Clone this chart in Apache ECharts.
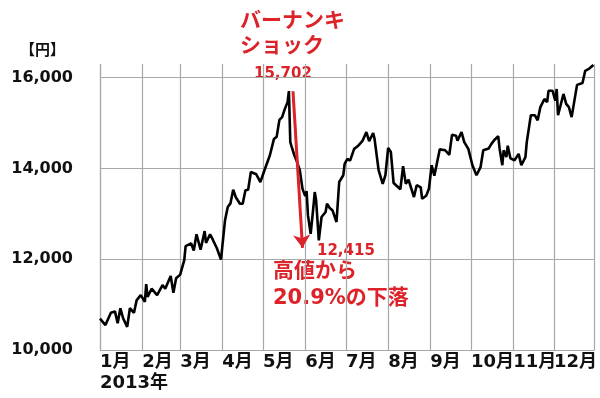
<!DOCTYPE html>
<html>
<head>
<meta charset="utf-8">
<script src="https://cdn.jsdelivr.net/npm/echarts@6/dist/echarts.min.js"></script>
<style>
html,body{margin:0;padding:0;background:#fff;}
#chart{width:600px;height:398px;}
</style>
</head>
<body>
<div id="chart"></div>
<script>
// Nikkei average, 2013
const dates = [
'2013-01-01','2013-01-05','2013-01-09','2013-01-12','2013-01-14','2013-01-16','2013-01-18','2013-01-21','2013-01-23','2013-01-26','2013-01-28','2013-01-31',
'2013-02-01','2013-02-03','2013-02-04','2013-02-05','2013-02-08','2013-02-12','2013-02-16','2013-02-18','2013-02-22','2013-02-24','2013-02-26',
'2013-03-01','2013-03-04','2013-03-05','2013-03-09','2013-03-11','2013-03-13','2013-03-16','2013-03-19','2013-03-20','2013-03-23','2013-03-25','2013-03-28','2013-03-31',
'2013-04-03','2013-04-05','2013-04-07','2013-04-09','2013-04-11','2013-04-14','2013-04-16','2013-04-18','2013-04-20','2013-04-22','2013-04-26','2013-04-29',
'2013-05-02','2013-05-06','2013-05-09','2013-05-11','2013-05-13','2013-05-15','2013-05-17','2013-05-19','2013-05-20','2013-05-21','2013-05-22','2013-05-24','2013-05-26','2013-05-28','2013-05-30',
'2013-06-01','2013-06-02','2013-06-03','2013-06-05','2013-06-07','2013-06-08','2013-06-09','2013-06-11','2013-06-13','2013-06-16','2013-06-17','2013-06-19','2013-06-21','2013-06-24','2013-06-26','2013-06-29','2013-06-30',
'2013-07-02','2013-07-04','2013-07-07','2013-07-10','2013-07-13','2013-07-16','2013-07-18','2013-07-21','2013-07-22','2013-07-25','2013-07-28','2013-07-30',
'2013-08-01','2013-08-03','2013-08-05','2013-08-10','2013-08-12','2013-08-14','2013-08-16','2013-08-20','2013-08-22','2013-08-25','2013-08-26','2013-08-29','2013-08-31',
'2013-09-02','2013-09-04','2013-09-08','2013-09-12','2013-09-15','2013-09-17','2013-09-20','2013-09-21','2013-09-24','2013-09-26','2013-09-29',
'2013-10-02','2013-10-05','2013-10-08','2013-10-10','2013-10-14','2013-10-16','2013-10-18','2013-10-21','2013-10-22','2013-10-24','2013-10-25','2013-10-27','2013-10-28','2013-10-30',
'2013-11-02','2013-11-05','2013-11-07','2013-11-10','2013-11-11','2013-11-14','2013-11-17','2013-11-19','2013-11-21','2013-11-24','2013-11-26','2013-11-27','2013-11-30',
'2013-12-02','2013-12-03','2013-12-04','2013-12-08','2013-12-10','2013-12-12','2013-12-14','2013-12-18','2013-12-22','2013-12-24','2013-12-27','2013-12-30'
];
const closes = [
10690,10550,10820,10850,10590,10920,10700,10510,10920,10820,11100,11210,
11250,11060,11450,11170,11350,11210,11430,11350,11630,11260,11580,
11660,11980,12290,12350,12190,12550,12210,12620,12360,12550,12430,12240,11990,
12860,13150,13230,13530,13360,13220,13220,13520,13530,13920,13870,13700,
13960,14290,14650,14700,15070,15130,15310,15460,15702,14580,14480,14290,14140,13960,13550,
13390,13500,12970,12560,13150,13480,13300,12415,12930,13040,13220,13130,13080,12820,13700,13850,14100,
14210,14170,14430,14500,14600,14800,14600,14780,14650,13960,13660,13850,
14450,14360,13680,13540,14050,13660,13750,13370,13630,13580,13330,13400,13550,
14070,13840,14420,14400,14300,14740,14720,14610,14800,14580,14430,
14070,13850,14030,14400,14440,14540,14620,14710,14440,14070,14400,14250,14500,14220,
14180,14320,14070,14250,14580,15170,15170,15060,15350,15530,15460,15710,15710,
15490,15750,15170,15640,15420,15350,15130,15840,15880,16150,16200,16280
];
const yTicks = [10000, 12000, 14000, 16000];
const peakLabel = '15,702';
const troughLabel = '12,415';
const arrowFrom = ['2013-05-23', 15700];
const arrowTo = ['2013-05-30', 12250];

const RED = '#dc2329';
const FONT = "'DejaVu Sans','Noto Sans CJK JP',sans-serif";

const chart = echarts.init(document.getElementById('chart'), null, {renderer: 'canvas'});
const seriesData = dates.map((d, i) => [d, closes[i]]);

chart.setOption({
  animation: false,
  backgroundColor: '#fff',
  grid: {left: 100, right: 3, top: 64, bottom: 48},
  xAxis: {
    type: 'time',
    min: '2013-01-01',
    max: '2013-12-31',
    splitNumber: 12,
    minInterval: 28 * 86400000,
    maxInterval: 31 * 86400000,
    axisLine: {show: false},
    axisTick: {show: false},
    axisLabel: {
      show: true,
      align: 'left',
      margin: 3,
      color: '#111',
      fontSize: 18,
      fontWeight: 'bold',
      fontFamily: FONT,
      showMaxLabel: false,
      formatter: function (v) { return (new Date(v).getMonth() + 1) + '月'; }
    },
    splitLine: {show: true, lineStyle: {color: '#a8a8a8', width: 1.2}}
  },
  yAxis: {
    type: 'value',
    min: 10000,
    max: 16300,
    interval: 2000,
    axisLine: {show: false},
    axisTick: {show: false},
    axisLabel: {
      margin: 27,
      color: '#111',
      fontSize: 16,
      fontWeight: 'bold',
      fontFamily: FONT,
      showMaxLabel: false,
      formatter: function (v) { return yTicks.indexOf(v) >= 0 ? v.toLocaleString('en-US') : ''; }
    },
    splitLine: {show: true, showMaxLine: false, lineStyle: {color: '#a8a8a8', width: 1.2}}
  },
  series: [{
    type: 'line',
    data: seriesData,
    showSymbol: false,
    symbol: 'none',
    lineStyle: {color: '#000', width: 2.6},
    z: 3,
    markLine: {
      silent: true,
      symbol: ['none', 'arrow'],
      symbolSize: 13,
      label: {show: false},
      lineStyle: {color: RED, width: 3, type: 'solid'},
      data: [[{coord: arrowFrom}, {coord: arrowTo}]]
    }
  }],
  graphic: [
    {type: 'text', left: 20, top: 44, style: {text: '【円】', fill: '#111', font: 'bold 15px ' + FONT}},
    {type: 'text', left: 100, top: 374, style: {text: '2013年', fill: '#111', font: 'bold 18px ' + FONT}},
    {type: 'text', left: 240, top: 11, style: {text: 'バーナンキ', fill: RED, font: 'bold 21px ' + FONT}},
    {type: 'text', left: 240, top: 36, style: {text: 'ショック', fill: RED, font: 'bold 21px ' + FONT}},
    {type: 'text', left: 254, top: 67, style: {text: peakLabel, fill: RED, font: 'bold 15px ' + FONT}},
    {type: 'text', left: 317, top: 244, style: {text: troughLabel, fill: RED, font: 'bold 15px ' + FONT}},
    {type: 'text', left: 273, top: 261, style: {text: '高値から', fill: RED, font: 'bold 21px ' + FONT}},
    {type: 'text', left: 273, top: 288, style: {text: '20.9%の下落', fill: RED, font: 'bold 21px ' + FONT}}
  ]
});
</script>
</body>
</html>
